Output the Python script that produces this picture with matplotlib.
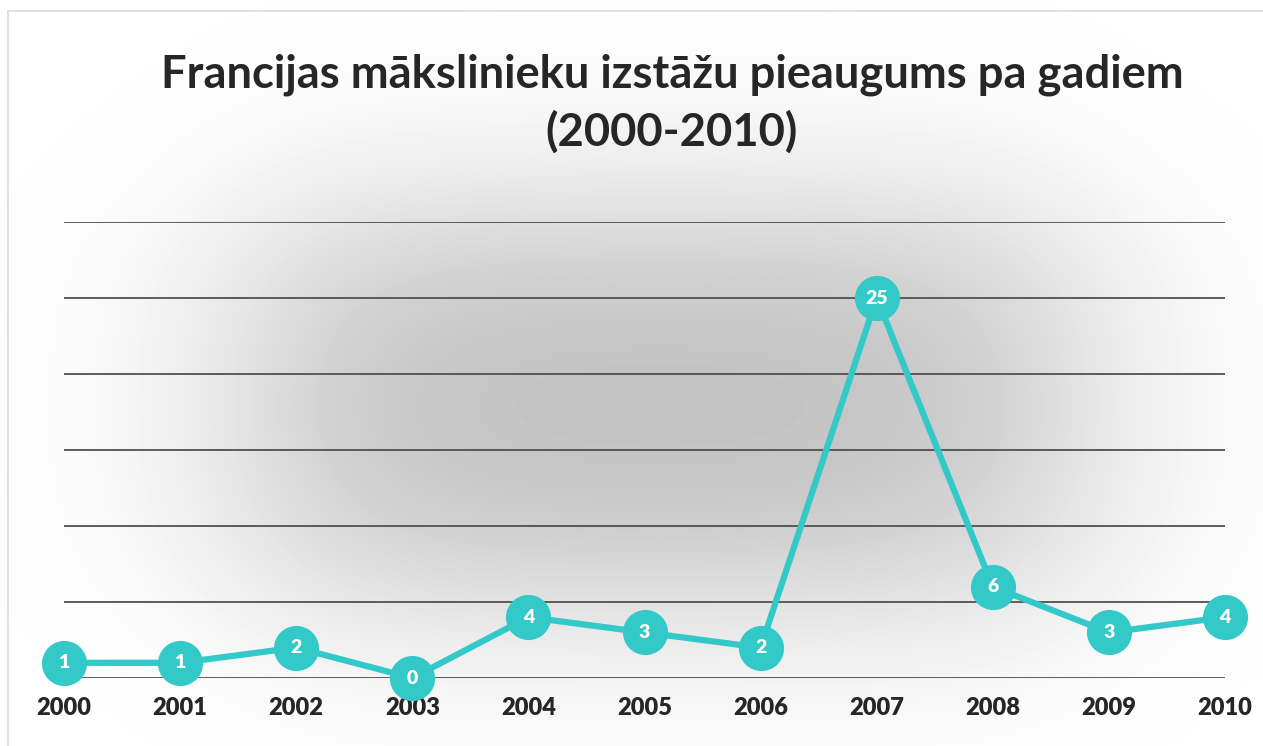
import numpy as np
import matplotlib.pyplot as plt
from matplotlib.lines import Line2D

years = [2000, 2001, 2002, 2003, 2004, 2005, 2006, 2007, 2008, 2009, 2010]
counts = [1, 1, 2, 0, 4, 3, 2, 25, 6, 3, 4]
title = "Francijas mākslinieku izstāžu pieaugums pa gadiem\n(2000-2010)"

W, H = 1263, 746
fig = plt.figure(figsize=(W / 100, H / 100), dpi=100)

# soft grey "glow" background
bg = fig.add_axes([0, 0, 1, 1], zorder=0)
xx, yy = np.meshgrid(np.arange(W), np.arange(H))
gx = 0.5 * (np.tanh((xx - 250) / 150) - np.tanh((xx - 1070) / 150))
gy = 0.5 * (np.tanh((yy - 220) / 120) - np.tanh((yy - 590) / 120))
shade = 1 - 0.26 * gx * gy
bg.imshow(shade, cmap="gray", vmin=0, vmax=1, extent=[0, W, H, 0], aspect="auto")
bg.set_xlim(0, W)
bg.set_ylim(H, 0)
bg.axis("off")
# frame edge (top and left)
bg.add_line(Line2D([8, 8], [11, H], color="#d9d9d9", lw=1.2))
bg.add_line(Line2D([8, W], [11, 11], color="#d9d9d9", lw=1.2))

ax = fig.add_axes([64 / W, (H - 678) / H, (1225 - 64) / W, (678 - 222) / H], zorder=1)
ax.patch.set_alpha(0)
ax.set_xlim(2000, 2010)
ax.set_ylim(0, 30)
for v in range(0, 31, 5):
    ax.axhline(v, color="#505050", lw=1.3, zorder=1)
for s in ax.spines.values():
    s.set_visible(False)

teal = "#33c9c9"
ax.plot(years, counts, color=teal, lw=4.5, marker="o", markersize=32.5,
        markeredgewidth=0, clip_on=False, zorder=3)
for x, y in zip(years, counts):
    ax.text(x, y, str(y), ha="center", va="center", color="white",
            fontsize=14, fontweight="heavy", family="Lato", zorder=4)

ax.set_yticks([])
ax.set_xticks(years)
ax.set_xticklabels([str(y) for y in years], fontsize=17, fontweight="heavy",
                   family="Lato", color="#262626")
ax.tick_params(axis="x", length=0, pad=14)

fig.text(0.532, 0.928, title, ha="center", va="top", fontsize=32.7,
         fontweight="bold", family="Lato", color="#262626", linespacing=1.4)

fig.savefig("out.png", dpi=100)
